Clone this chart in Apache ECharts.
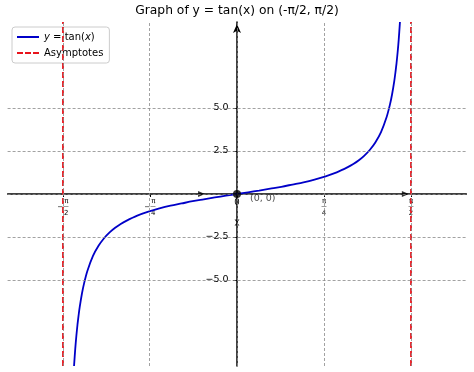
<!DOCTYPE html>
<html>
<head>
<meta charset="utf-8">
<script src="https://cdn.jsdelivr.net/npm/echarts@6/dist/echarts.min.js"></script>
<style>html,body{margin:0;padding:0;background:#fff}#c{width:474px;height:372px}</style>
</head>
<body>
<div id="c"></div>
<script>
const PI = Math.PI;
// curve points (x in radians, y = tan x)
const curveX = [-1.471,-1.46,-1.45,-1.44,-1.43,-1.42,-1.40,-1.38,-1.35,-1.30,-1.25,-1.20,-1.15,-1.10,-1.05,-1.00,-0.90,-0.80,-0.70,-0.60,-0.50,-0.40,-0.30,-0.20,-0.10,0,
  0.10,0.20,0.30,0.40,0.50,0.60,0.70,0.80,0.90,1.00,1.05,1.10,1.15,1.20,1.25,1.30,1.35,1.38,1.40,1.42,1.43,1.44,1.45,1.46,1.471];
const curveY = [-10.0,-8.99,-8.24,-7.60,-7.06,-6.58,-5.80,-5.18,-4.46,-3.60,-3.01,-2.57,-2.23,-1.96,-1.74,-1.56,-1.26,-1.03,-0.84,-0.68,-0.55,-0.42,-0.31,-0.20,-0.10,0,
  0.10,0.20,0.31,0.42,0.55,0.68,0.84,1.03,1.26,1.56,1.74,1.96,2.23,2.57,3.01,3.60,4.46,5.18,5.80,6.58,7.06,7.60,8.24,8.99,10.0];
const asymptoteX = [-PI/2, PI/2];
const xTicks = [-PI/2, -PI/4, 0, PI/4, PI/2];
const yTicks = [-5, -2.5, 2.5, 5];
const yGrid = [-5, -2.5, 0, 2.5, 5];
const xGrid = [-PI/2, -PI/4, 0, PI/4, PI/2];
const xMin = -PI/2 - 0.5, xMax = PI/2 + 0.5, yMin = -10, yMax = 10;
const arrowPts = [[-0.32, 0], [1.52, 0]];
const yMarkPts = [[0, -1.65]];
const origin = [[0, 0]];

const FONT = 'DejaVu Sans';
function xLabel(v){
  if (Math.abs(v) < 1e-9) return '{z|0}';
  const d = Math.round(PI / Math.abs(v));
  const neg = v < 0;
  return (neg ? '{n|   π}' : '{n|π}') + '\n' + (neg ? '{m|−}{b|—}' : '{b|—}') + '\n' + (neg ? '{n|   ' + d + '}' : '{n|' + d + '}');
}
const solidIcon = 'path://M0,0L0.01,0L0,0.01Z M0,14L0.01,14L0,13.99Z M0,6.1H22V7.9H0Z';
const dashIcon = 'path://M0,0L0.01,0L0,0.01Z M0,14L0.01,14L0,13.99Z M0,6.1H6V7.9H0Z M8,6.1H14V7.9H8Z M16,6.1H22V7.9H16Z';
const chart = echarts.init(document.getElementById('c'));
const curveData = curveX.map((x,i)=>[x, curveY[i]]);
const option = {
  animation: false,
  backgroundColor: '#fff',
  title: {
    text: 'Graph of y = tan(x) on (-π/2, π/2)',
    left: 'center', top: 5, padding: 0,
    textStyle: {fontFamily: FONT, fontSize: 12.3, fontWeight: 'normal', color: '#000'}
  },
  legend: {
    left: 12, top: 27, orient: 'vertical',
    padding: [3, 6, 3, 5],
    itemWidth: 22, itemHeight: 14, itemGap: 2,
    backgroundColor: 'rgba(255,255,255,0.9)',
    borderColor: '#cccccc', borderWidth: 1, borderRadius: 3,
    data: [
      {name: 'y = tan(x)', icon: solidIcon, itemStyle: {color: '#0000c8'}},
      {name: 'Asymptotes', icon: dashIcon, itemStyle: {color: '#e8141c'}}
    ],
    formatter: function(name){ return name === 'y = tan(x)' ? '{i|y} = tan({i|x})' : name; },
    textStyle: {fontFamily: FONT, fontSize: 10, color: '#000',
      rich: {i: {fontFamily: FONT, fontSize: 10, fontStyle: 'italic', color: '#000'}}}
  },
  grid: {left: 7.6, right: 7.6, top: 22, bottom: 6, outerBoundsMode: 'none', containLabel: false},
  xAxis: {
    type: 'value', min: xMin, max: xMax,
    axisLine: {onZero: true, lineStyle: {color: '#000', width: 1.5}},
    axisTick: {show: true, customValues: xTicks, length: 3, lineStyle: {color: '#000', width: 1}},
    axisLabel: {
      customValues: xTicks, margin: -168, color: '#000', fontFamily: FONT,
      formatter: xLabel,
      rich: {
        z: {fontSize: 8.5, fontFamily: FONT, color: '#000'},
        n: {fontSize: 7, lineHeight: 6, fontFamily: FONT, color: '#000'},
        m: {fontSize: 7, lineHeight: 6, fontFamily: FONT, color: '#000'},
        b: {fontSize: 5.5, lineHeight: 6, fontFamily: FONT, color: '#000'}
      }
    },
    splitLine: {show: false}
  },
  yAxis: {
    type: 'value', min: yMin, max: yMax,
    axisLine: {onZero: true, lineStyle: {color: '#000', width: 1.5}, symbol: ['none', 'arrow'], symbolSize: [6, 9], symbolOffset: [0, -2]},
    axisTick: {show: true, customValues: yTicks, length: 4, lineStyle: {color: '#000', width: 1}},
    axisLabel: {
      customValues: yTicks, margin: -221, color: '#000', fontFamily: FONT, fontSize: 9.5,
      formatter: function(v){ return v.toFixed(1).replace('-', '−'); }
    },
    splitLine: {show: false}
  },
  series: [
    {
      name: 'grid', type: 'line', data: [], z: 1, silent: true,
      markLine: {
        silent: true, symbol: ['none', 'none'], label: {show: false},
        lineStyle: {color: '#8a8a8a', type: [3, 2], width: 0.8},
        emphasis: {disabled: true},
        data: xGrid.map(v => ({xAxis: v})).concat(yGrid.map(v => ({yAxis: v})))
      }
    },
    {
      name: 'y = tan(x)', type: 'line', data: curveData, showSymbol: false, symbol: 'none',
      smooth: 0.3, z: 3,
      lineStyle: {color: '#0000c8', width: 1.8}, itemStyle: {color: '#0000c8'}
    },
    {
      name: 'Asymptotes', type: 'line', data: [[asymptoteX[0], yMin], [asymptoteX[0], yMax]],
      symbol: 'none', z: 4,
      lineStyle: {color: '#e8141c', width: 1.8, type: [6, 3]}, itemStyle: {color: '#e8141c'}
    },
    {
      name: 'Asymptotes', type: 'line', data: [[asymptoteX[1], yMin], [asymptoteX[1], yMax]],
      symbol: 'none', z: 4,
      lineStyle: {color: '#e8141c', width: 1.8, type: [6, 3]}, itemStyle: {color: '#e8141c'}
    },
    {
      name: 'arrows', type: 'scatter', data: arrowPts, symbol: 'triangle', symbolRotate: -90,
      symbolSize: [6, 7], itemStyle: {color: '#000'}, z: 3, silent: true
    },
    {
      name: 'ymark', type: 'scatter', data: yMarkPts,
      symbol: 'path://M0,0L10,0L5,5L10,10L0,10L5,5Z', symbolSize: [5, 6],
      itemStyle: {color: '#000'}, z: 3, silent: true
    },
    {
      name: 'origin', type: 'scatter', data: origin, symbol: 'circle', symbolSize: 8,
      itemStyle: {color: '#000'}, z: 5, silent: true,
      label: {show: true, formatter: '(0, 0)', position: 'right', offset: [4, 5],
        fontFamily: FONT, fontSize: 9.5, color: '#222'}
    }
  ]
};
chart.setOption(option);
</script>
</body>
</html>
